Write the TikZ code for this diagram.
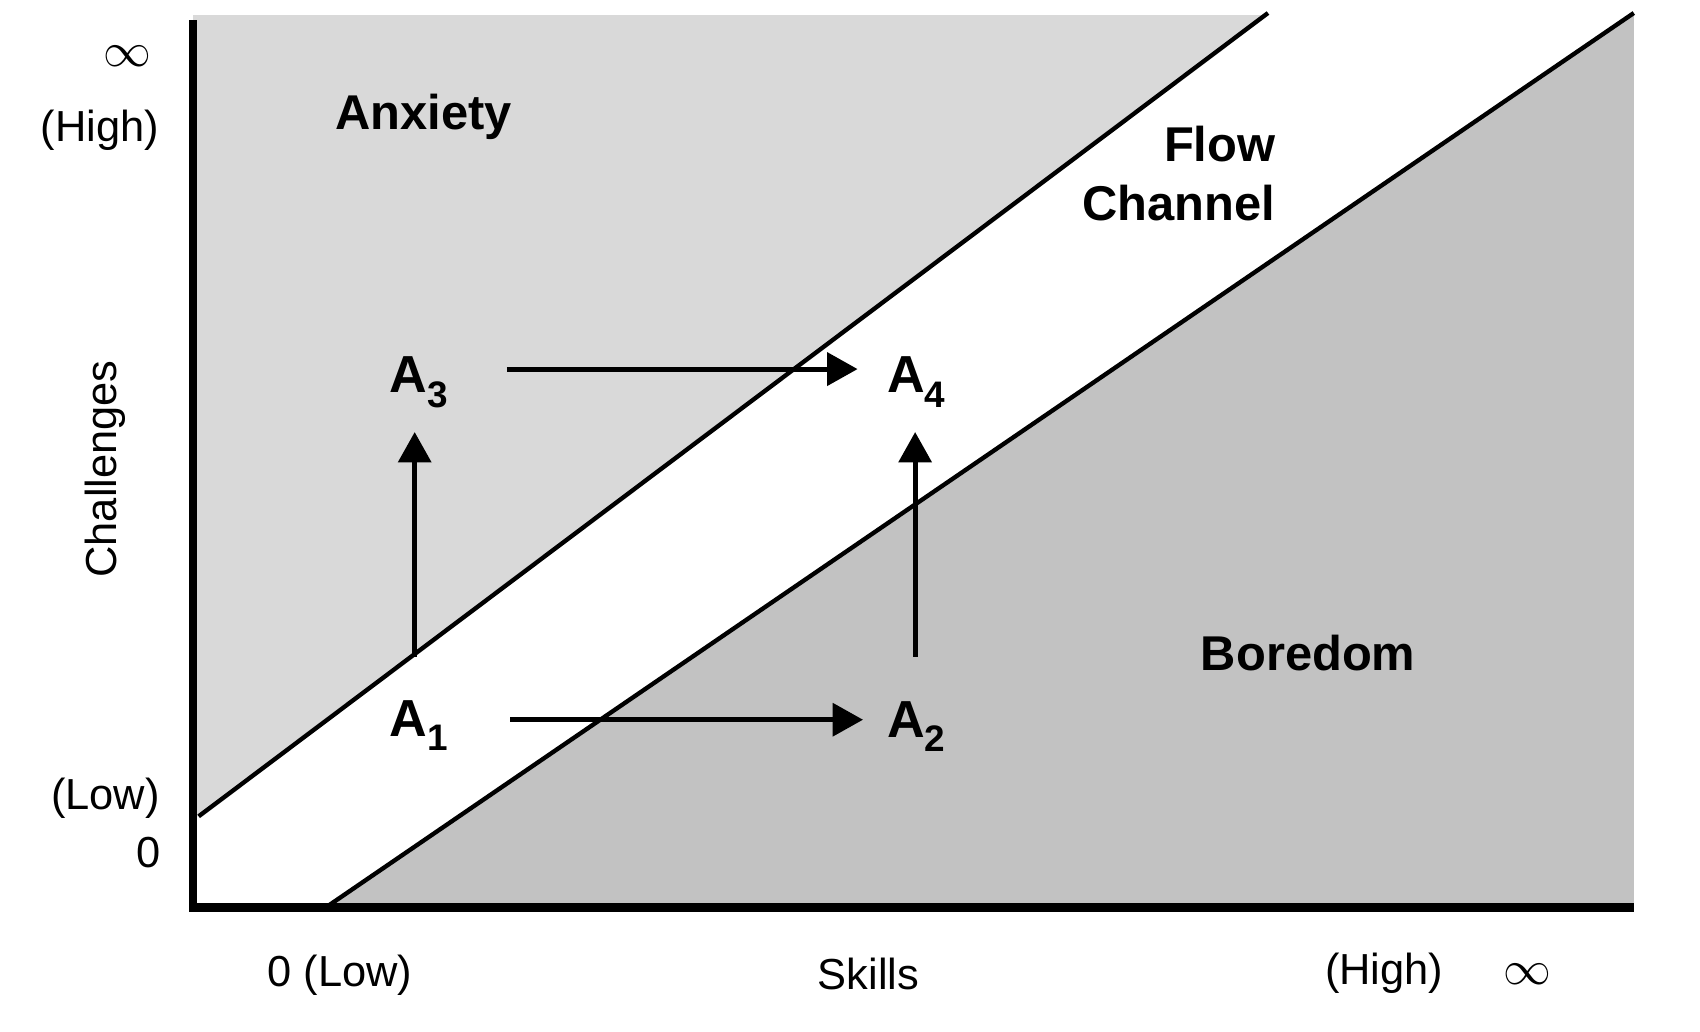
\documentclass[tikz,border=0pt]{standalone}
\usepackage{fontspec}
\usepackage{graphicx}
\setmainfont{Liberation Sans}
\usetikzlibrary{arrows.meta}
\definecolor{anxgray}{rgb}{0.85,0.85,0.85}
\definecolor{borgray}{rgb}{0.76,0.76,0.76}
\newcommand\asub[1]{\raisebox{-13pt}{\fontsize{34}{34}\selectfont #1}}
\newcommand\bigINF{\resizebox{44pt}{!}{$\infty$}}
\begin{document}
\begin{tikzpicture}[x=1pt,y=1pt,
  lbl/.style={font=\fontsize{40}{48}\selectfont, inner sep=0pt},
  inf/.style={inner sep=0pt},
  blbl/.style={font=\fontsize{45}{54}\selectfont\bfseries, inner sep=0pt},
  anode/.style={font=\fontsize{48}{52}\selectfont\bfseries, inner sep=0pt, anchor=base west},
  arr/.style={line width=4.5pt, -{Triangle[length=28pt,width=30pt]}},
  axisline/.style={line width=7pt},
  diag/.style={line width=4pt}]
\useasboundingbox (0,-10) rectangle (1566,940);
% shaded regions
\fill[anxgray] (178,926) -- (1165,926) -- (183,188) -- (178,188) -- cycle;
\fill[borgray] (300,104) -- (1505,928) -- (1505,104) -- cycle;
% channel boundaries
\coordinate (u0) at (183,188);
\coordinate (u1) at (1168,928);
\coordinate (l0) at (300,104);
\coordinate (l1) at (1505,928);
\draw[diag] (u0) -- (u1);
\draw[diag] (l0) -- (l1);
% axes
\coordinate (ytop) at (178,922);
\coordinate (orig) at (178,100.5);
\coordinate (xorig) at (174.5,104);
\coordinate (xend) at (1505,104);
\draw[axisline] (orig) -- (ytop);
\draw[line width=8pt] (xorig) -- (xend);
% axis labels
\node[inf] (yinf) at (117,888) {\bigINF};
\node[lbl] (yhigh) at (92,820) {(High)};
\node[lbl, rotate=90] (chal) at (97,508) {Challenges};
\node[lbl] (ylow) at (97,205) {(Low)};
\node[lbl] (yzero) at (137,155) {0};
\node[lbl] (xlow) at (313,42) {0 (Low)};
\node[lbl] (skills) at (800,43) {Skills};
\node[lbl] (xhigh) at (1275,43) {(High)};
\node[inf] (xinf) at (1407,43) {\bigINF};
% region labels
\node[blbl] (anx) at (390,832) {Anxiety};
\node[blbl, anchor=east] (flow) at (1175,807) {Flow};
\node[blbl, anchor=east] (chan) at (1175,753) {Channel};
\node[blbl] (bor) at (1205,338) {Boredom};
% states
\node[anode] (A1) at (359,262) {A\asub{1}};
\node[anode] (A2) at (817,261) {A\asub{2}};
\node[anode] (A3) at (359,578) {A\asub{3}};
\node[anode] (A4) at (817,578) {A\asub{4}};
% arrow ends
\coordinate (a12s) at (470,277);
\coordinate (a12e) at (795,277);
\coordinate (a34s) at (467,600);
\coordinate (a34e) at (790,600);
\coordinate (a13s) at (382,335);
\coordinate (a13e) at (382,542);
\coordinate (a24s) at (843,335);
\coordinate (a24e) at (843,542);
\draw[arr] (a12s) -- (a12e);
\draw[arr] (a34s) -- (a34e);
\draw[arr] (a13s) -- (a13e);
\draw[arr] (a24s) -- (a24e);
\end{tikzpicture}
\end{document}
